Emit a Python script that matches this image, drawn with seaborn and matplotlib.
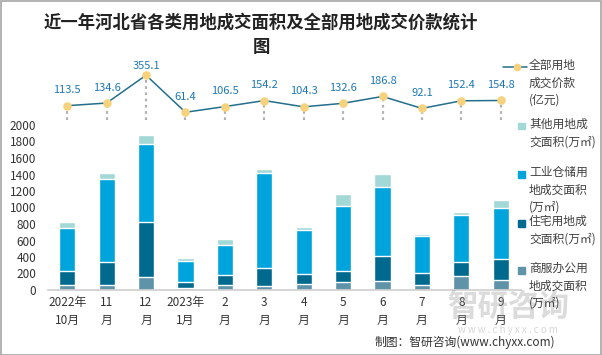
import numpy as np
import pandas as pd
import matplotlib
matplotlib.use("Agg")
import matplotlib.pyplot as plt
from matplotlib.patches import Rectangle
from matplotlib.lines import Line2D
import seaborn as sns

# ---------------- Daten ----------------
months = ["2022年\n10月", "11\n月", "12\n月", "2023年\n1月", "2\n月", "3\n月",
          "4\n月", "5\n月", "6\n月", "7\n月", "8\n月", "9\n月"]
price = [113.5, 134.6, 355.1, 61.4, 106.5, 154.2, 104.3, 132.6, 186.8, 92.1, 152.4, 154.8]
commercial = [57, 57, 154, 20, 57, 45, 69, 97, 110, 61, 170, 122]
residential = [178, 288, 666, 81, 121, 227, 130, 134, 304, 146, 171, 255]
industrial = [515, 998, 953, 256, 362, 1144, 527, 791, 840, 450, 572, 621]
other = [70, 73, 105, 28, 73, 49, 33, 146, 158, 25, 36, 97]

legend_labels = ["全部用地\n成交价款\n(亿元)",
                 "其他用地成\n交面积(万㎡)",
                 "工业仓储用\n地成交面积\n(万㎡)",
                 "住宅用地成\n交面积(万㎡)",
                 "商服办公用\n地成交面积\n(万㎡)"]

c_other = "#a2d8d6"
c_ind = "#00a4dc"
c_res = "#006a8e"
c_com = "#5e93a8"
c_line = "#236f8c"
c_marker = "#f7d27c"
c_label = "#1f78b4"

sns.set_theme(style="white")
plt.rcParams["font.family"] = ["Noto Sans CJK SC", "DejaVu Sans"]

W, H = 602, 355
fig = plt.figure(figsize=(W / 100, H / 100), dpi=100)

def px_axes(x0, y0, x1, y1):
    # Pixel-Box (oben links) -> Figure-Koordinaten
    return fig.add_axes([x0 / W, 1 - y1 / H, (x1 - x0) / W, (y1 - y0) / H])

# ---------------- Balken ----------------
df = pd.DataFrame({"Monat": months, "com": commercial, "res": residential,
                   "ind": industrial, "oth": other})
df["c1"] = df["com"]
df["c2"] = df["c1"] + df["res"]
df["c3"] = df["c2"] + df["ind"]
df["c4"] = df["c3"] + df["oth"]

ax = px_axes(47.5, 125, 520.5, 290)
for col, color in [("c4", c_other), ("c3", c_ind), ("c2", c_res), ("c1", c_com)]:
    sns.barplot(data=df, x="Monat", y=col, color=color, width=0.41,
                saturation=1, ax=ax, zorder=2)
ax.set_xlim(-0.5, len(months) - 0.5)
ax.set_ylim(0, 2000)
ax.set_yticks(range(0, 2001, 200))
ax.set_xlabel("")
ax.set_ylabel("")
for s in ["top", "right", "left"]:
    ax.spines[s].set_visible(False)
ax.spines["bottom"].set_color("#d0d0d0")
ax.tick_params(axis="y", length=0, labelsize=8.5, colors="#333333", pad=8)
ax.set_xticks(range(len(months)))
ax.set_xticklabels(months, fontsize=8.5, color="#333333", linespacing=1.5)
ax.tick_params(axis="x", length=0, pad=4)
ax.set_xticks(np.arange(-0.5, len(months), 1), minor=True)
ax.tick_params(axis="x", which="minor", length=5, color="#d0d0d0", direction="out")

# ---------------- Linie ----------------
ax2 = px_axes(47.5, 60, 520.5, 120)
xs = np.arange(len(months))
sns.lineplot(x=xs, y=price, ax=ax2, color=c_line, linewidth=1.1, zorder=3)
ax2.scatter(xs, price, s=38, color=c_marker, zorder=4, linewidths=0)
ax2.vlines(xs, 0, price, colors="#b0b0b0", linestyles=(0, (1.2, 1.6)),
           linewidth=1.6, zorder=1)
top = int(np.argmax(price))
for x, v in zip(xs, price):
    off = 3 if x == top else 7.5
    ax2.annotate(f"{v}", (x, v), xytext=(0, off), textcoords="offset points",
                 ha="center", va="bottom", fontsize=8, color=c_label)
ax2.set_xlim(-0.5, len(months) - 0.5)
ax2.set_ylim(0, 476)
ax2.axis("off")

# ---------------- Titel ----------------
fig.text(261 / W, 1 - 35 / H, "近一年河北省各类用地成交面积及全部用地成交价款统计\n图",
         ha="center", va="center", fontsize=12.5, fontweight="bold",
         color="#222222", linespacing=1.45)

# ---------------- Legende ----------------
lx = 529 / W
fig.add_artist(Line2D([503 / W, 527 / W], [1 - 67 / H, 1 - 67 / H],
                      color=c_line, linewidth=1.1))
fig.add_artist(Line2D([517 / W], [1 - 67 / H], marker="o", markersize=4.5,
                      color=c_marker, linestyle="none"))
fig.text(lx, 1 - 59 / H, legend_labels[0], ha="left", va="top", fontsize=8.5,
         color="#404040", linespacing=1.45)
for lab, color, y in zip(legend_labels[1:], [c_other, c_ind, c_res, c_com],
                         [126, 174, 223, 270]):
    fig.add_artist(Rectangle((518 / W, 1 - (y + 3.5) / H), 6.5 / W, 6.5 / H,
                             transform=fig.transFigure, color=color))
    fig.text(lx, 1 - (y - 8) / H, lab, ha="left", va="top", fontsize=8.5,
             color="#404040", linespacing=1.45)

# ---------------- Wasserzeichen / Quelle ----------------
fig.text(508 / W, 1 - 307 / H, "智研咨询", ha="center", va="center",
         fontsize=22, color="#9a9a9a", alpha=0.35, fontweight="bold", zorder=0)
fig.text(508 / W, 1 - 330 / H, "w w w . c h y x x . c o m", ha="center",
         va="center", fontsize=7, color="#9a9a9a", alpha=0.4, zorder=0)
fig.text(465 / W, 1 - 342 / H, "制图：智研咨询(www.chyxx.com)", ha="center",
         va="center", fontsize=8.5, color="#333333")

fig.add_artist(Rectangle((0.5 / W, 0.5 / H), 1 - 1.5 / W, 1 - 1.5 / H,
                         transform=fig.transFigure, fill=False,
                         edgecolor="#a6a6a6", linewidth=1.2))

fig.savefig("out.png", dpi=100)
